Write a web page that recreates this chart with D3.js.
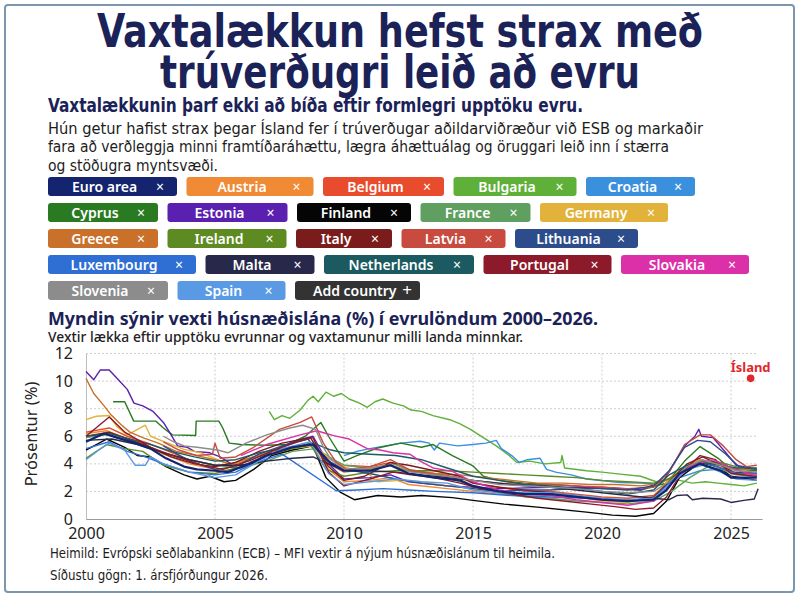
<!DOCTYPE html>
<html>
<head>
<meta charset="utf-8">
<script src="https://cdn.jsdelivr.net/npm/d3@7"></script>
<style>
  body { margin: 0; background: #fff; }
  svg { display: block; }
  .narrow { font-family: "Liberation Sans Narrow", "DejaVu Sans Condensed", "Roboto Condensed", sans-serif; }
  .sans { font-family: "Noto Sans", "Open Sans", sans-serif; }
</style>
</head>
<body>
<svg id="chart" width="800" height="599"></svg>
<script>
// DATA: mortgage rates (%), [year, value]
const countries = ["Euro area", "Austria", "Belgium", "Bulgaria", "Croatia", "Cyprus", "Estonia",
    "Finland", "France", "Germany", "Greece", "Ireland", "Italy", "Latvia", "Lithuania",
    "Luxembourg", "Malta", "Netherlands", "Portugal", "Slovakia", "Slovenia", "Spain"];

const euroArea = [[2000,5.6],[2000.7,6.2],[2001.2,5.9],[2001.9,5.5],[2002.5,5.1],[2003.1,4.4],[2003.8,3.8],[2004.3,3.6],[2005,3.5],[2005.5,3.4],[2006.2,3.9],[2007,4.6],[2008,5.2],[2008.8,5.4],[2009.5,4.0],[2010,3.5],[2011,3.5],[2011.8,3.9],[2012.5,3.3],[2013.5,3.0],[2014.5,2.8],[2015,2.4],[2016,2.0],[2017,1.8],[2018,1.8],[2019,1.6],[2020,1.4],[2021,1.3],[2022,1.4],[2022.5,2.1],[2023,3.3],[2023.8,4.0],[2024.6,3.5],[2025,3.0],[2026,3.0]];
const austria = [[2000,6.2],[2000.8,6.4],[2001.5,5.9],[2002.3,5.4],[2003,4.7],[2004,4.0],[2005,3.6],[2005.6,3.5],[2006.5,4.2],[2007.5,4.9],[2008.8,5.5],[2009.4,3.6],[2010,2.7],[2011,2.8],[2011.8,3.0],[2012.5,2.5],[2014,2.2],[2015,2.0],[2016,1.8],[2018,1.8],[2019,1.7],[2020,1.4],[2021,1.3],[2022,1.5],[2022.6,2.8],[2023.2,3.8],[2023.8,4.3],[2024.5,3.9],[2025,3.4],[2026,3.2]];
const belgium = [[2000,6.3],[2000.9,6.6],[2001.6,6.0],[2002.4,5.5],[2003.2,4.9],[2004,4.3],[2005,3.9],[2005.8,4.0],[2006.6,4.5],[2007.5,4.8],[2008.7,5.3],[2009.5,4.3],[2010,3.9],[2011,3.8],[2011.8,4.1],[2012.5,3.6],[2013.5,3.3],[2014.5,3.0],[2015,2.6],[2016,2.3],[2017,2.0],[2018,2.0],[2019,1.8],[2020,1.6],[2021,1.5],[2022,1.7],[2022.6,2.8],[2023.3,3.7],[2023.9,4.1],[2024.6,3.7],[2025,3.4],[2025.5,3.3],[2026,3.5]];
const bulgaria = [[2007.1,7.8],[2007.3,7.2],[2007.6,7.5],[2007.9,7.3],[2008.3,7.9],[2008.6,8.6],[2008.8,8.9],[2009.0,8.5],[2009.3,9.2],[2009.6,8.9],[2009.9,9.1],[2010.2,8.7],[2010.6,8.4],[2010.9,8.1],[2011.2,8.5],[2011.5,8.7],[2011.9,8.4],[2012.3,8.2],[2012.6,7.9],[2013.0,7.8],[2013.45,7.5],[2014.1,7.2],[2014.5,6.9],[2014.9,6.5],[2015.4,5.9],[2015.9,5.3],[2016.4,4.6],[2016.7,4.1],[2017.2,4.2],[2017.8,4.0],[2018.4,4.1],[2018.45,4.6],[2018.55,3.7],[2019.4,3.5],[2020,3.4],[2020.7,3.25],[2021.5,3.1],[2022.1,2.7],[2022.6,2.9],[2023.0,2.8],[2023.5,2.6],[2024.0,2.7],[2024.5,2.6],[2025,2.5],[2025.5,2.4],[2026,2.6]];
const croatia = [[2010,4.6],[2010.5,4.9],[2011,5.1],[2011.6,5.3],[2012.2,5.5],[2012.95,5.64],[2013.3,5.5],[2013.5,5.0],[2013.7,5.5],[2014.4,5.3],[2015,5.4],[2015.5,5.5],[2015.9,5.7],[2016.1,5.1],[2016.5,4.6],[2016.8,4.1],[2017.1,4.3],[2017.6,4.4],[2017.85,3.6],[2018.2,3.4],[2018.8,3.2],[2019.4,2.9],[2020.7,2.65],[2021.5,2.6],[2022.5,2.5],[2023,3.0],[2023.8,3.5],[2024.5,3.6],[2025,3.4],[2026,3.3]];
const cyprus = [[2001.05,8.5],[2001.5,8.5],[2001.85,7.1],[2002.7,7.1],[2003.0,6.6],[2003.35,6.1],[2004.25,6.05],[2004.27,7.1],[2005.15,7.1],[2005.3,6.6],[2005.55,5.5],[2006,5.4],[2007,5.35],[2007.8,5.4],[2008.5,6.0],[2009.1,7.0],[2009.4,6.0],[2010,4.2],[2010.5,4.6],[2011.3,5.15],[2012.2,5.5],[2013,5.2],[2013.45,5.4],[2014.2,4.6],[2015,3.85],[2015.4,3.1],[2016,2.8],[2017,2.6],[2018,2.5],[2019,2.4],[2020,2.2],[2021.5,2.1],[2022.5,2.6],[2023.2,4.2],[2023.8,5.25],[2024.5,4.4],[2025,3.6],[2026,3.5]];
const estonia = [[2000,10.7],[2000.3,10.1],[2000.55,10.8],[2000.9,10.8],[2001.2,10.2],[2001.6,9.4],[2001.86,8.4],[2002.2,8.2],[2002.6,7.8],[2003.0,7.0],[2003.3,6.1],[2003.55,5.3],[2003.93,5.2],[2004.2,4.9],[2004.8,4.8],[2005.2,4.5],[2005.7,3.9],[2006.5,4.0],[2007.3,5.0],[2008,5.6],[2008.8,6.0],[2009.4,4.0],[2010,2.9],[2011,3.0],[2011.8,3.2],[2012.5,2.7],[2014,2.4],[2016,2.2],[2018,2.3],[2020,2.3],[2021.5,2.1],[2022.4,2.8],[2023.2,5.3],[2023.6,6.0],[2023.75,6.5],[2023.85,6.0],[2024.3,5.9],[2024.8,4.8],[2025.2,3.9],[2026,3.6]];
const finland = [[2000,5.0],[2000.8,5.8],[2001.5,5.2],[2002,4.6],[2002.5,4.5],[2003.1,3.8],[2003.8,3.2],[2004.3,2.9],[2004.8,3.1],[2005.35,2.7],[2005.8,2.8],[2006.5,3.6],[2007.2,4.6],[2008,5.0],[2008.8,5.3],[2009.3,3.0],[2009.85,1.95],[2010.4,1.4],[2011.3,1.7],[2012.2,1.6],[2013,1.7],[2014.2,1.55],[2015,1.35],[2016.2,1.08],[2017.5,0.86],[2019.4,0.5],[2020.4,0.28],[2021.3,0.2],[2022,0.4],[2022.5,1.3],[2023,3.0],[2023.8,4.1],[2024.5,3.8],[2025,3.1],[2026,2.8]];
const france = [[2000,5.9],[2000.8,6.1],[2001.6,5.7],[2002.5,5.2],[2003.3,4.6],[2004,4.3],[2005,3.9],[2006,3.7],[2007,4.2],[2008,4.9],[2008.9,5.1],[2009.6,4.3],[2010,3.9],[2011,3.7],[2011.9,4.0],[2012.8,3.4],[2014,3.0],[2015,2.4],[2016,1.9],[2017,1.6],[2018,1.5],[2019,1.3],[2020,1.2],[2021,1.1],[2022,1.3],[2022.7,2.0],[2023.4,3.0],[2024.1,3.8],[2024.6,3.6],[2025.2,3.2],[2026,3.1]];
const germany = [[2000,7.2],[2000.4,7.45],[2000.9,7.5],[2001.2,6.7],[2001.6,6.1],[2002,6.5],[2002.3,6.8],[2002.5,6.0],[2003.1,5.55],[2003.8,5.05],[2004.45,4.8],[2005.1,4.3],[2005.6,3.9],[2006.3,4.4],[2007.2,4.9],[2008,5.1],[2008.8,5.3],[2009.5,4.3],[2010,3.8],[2011,3.2],[2011.3,2.7],[2012.2,2.8],[2013,2.7],[2014,2.4],[2015,2.2],[2016,1.9],[2017,1.8],[2018,1.8],[2019,1.6],[2020,1.3],[2021,1.2],[2022,1.6],[2022.6,2.9],[2023.3,3.9],[2023.9,4.2],[2024.6,3.8],[2025,3.6],[2026,3.4]];
const greece = [[2000,10.2],[2000.3,9.1],[2000.7,8.2],[2000.95,7.6],[2001.35,6.85],[2001.7,6.3],[2002.2,5.9],[2002.8,5.5],[2003.5,4.9],[2004.3,4.6],[2005,4.3],[2005.6,4.0],[2006.3,4.4],[2007.2,4.9],[2008,5.2],[2008.7,5.5],[2009.4,4.0],[2010,3.4],[2011,3.6],[2011.8,3.9],[2012.5,3.5],[2013.5,3.3],[2014.5,3.2],[2015.5,3.0],[2016.5,2.8],[2017.5,2.6],[2018.5,2.6],[2019.5,2.5],[2020.5,2.5],[2021.5,2.4],[2022.3,2.6],[2022.9,3.3],[2023.6,4.0],[2024.2,4.2],[2024.8,3.8],[2025.4,3.6],[2026,3.6]];
const ireland = [[2000,4.4],[2000.8,5.4],[2001.5,5.1],[2002.2,4.9],[2003,3.9],[2004,3.4],[2005,3.3],[2006,3.8],[2007,4.6],[2008,5.1],[2008.7,5.4],[2009.3,3.6],[2010,3.1],[2011,3.4],[2012,3.5],[2013,3.5],[2014,3.5],[2015,3.4],[2016,3.3],[2017,3.2],[2018,3.1],[2019,3.0],[2020,2.8],[2021,2.7],[2022,2.6],[2022.6,2.9],[2023.3,3.8],[2023.9,4.2],[2024.6,4.1],[2025.2,3.8],[2026,3.6]];
const italy = [[2000,6.0],[2000.9,6.3],[2001.6,5.8],[2002.5,5.2],[2003.3,4.5],[2004.2,4.0],[2005,3.8],[2005.8,4.1],[2006.7,4.9],[2007.6,5.5],[2008.7,5.9],[2009.4,3.8],[2010,2.8],[2010.8,3.1],[2011.8,4.1],[2012.5,3.9],[2013.5,3.5],[2014.5,3.1],[2015,2.6],[2016,2.3],[2017,2.1],[2018,1.9],[2019,1.7],[2020,1.4],[2021,1.3],[2022,1.6],[2022.6,2.7],[2023.3,4.0],[2023.9,4.5],[2024.6,3.9],[2025.1,3.4],[2026,3.3]];
const latvia = [[2003,5.6],[2003.6,5.0],[2004.3,4.6],[2004.9,4.7],[2005.0,5.5],[2005.2,4.4],[2005.8,4.5],[2006.5,5.2],[2007.5,6.5],[2008.3,7.0],[2008.75,7.4],[2009.2,5.5],[2009.7,4.1],[2010.1,3.6],[2011,3.8],[2011.8,4.3],[2012.6,3.5],[2014,3.1],[2015,2.8],[2016,2.6],[2017,2.5],[2018,2.5],[2019,2.4],[2020,2.3],[2021,2.2],[2022,2.3],[2022.6,3.4],[2023.2,5.4],[2023.8,6.1],[2024.2,6.1],[2024.7,5.3],[2025.2,4.3],[2025.6,3.8],[2026,3.9]];
const lithuania = [[2003,5.3],[2004,4.2],[2005,3.6],[2005.8,3.8],[2006.7,4.7],[2007.6,5.3],[2008.6,5.8],[2009.3,4.3],[2010,3.6],[2011,3.3],[2012,2.9],[2013,2.6],[2014,2.4],[2015,2.2],[2016,2.0],[2017,2.1],[2018,2.1],[2019,2.2],[2020,2.2],[2021,2.1],[2022,2.4],[2022.6,3.5],[2023.2,5.2],[2023.7,5.7],[2024.2,5.6],[2024.8,4.7],[2025.3,3.8],[2026,3.6]];
const luxembourg = [[2000,5.1],[2000.9,5.6],[2001.6,4.9],[2002.3,4.5],[2003,4.0],[2004,3.4],[2005,3.2],[2005.8,3.4],[2006.6,4.1],[2007.6,4.7],[2009.7,2.05],[2010.5,2.1],[2011.5,2.2],[2012.5,2.1],[2013.5,2.0],[2015,1.9],[2016.5,1.7],[2018,1.6],[2019.5,1.5],[2021,1.3],[2022,1.5],[2022.6,2.6],[2023.3,3.8],[2023.9,4.1],[2024.6,3.7],[2025.2,3.3],[2026,3.3]];
const malta = [[2000,5.7],[2001,5.8],[2002,5.4],[2003,4.8],[2004,4.3],[2005,3.9],[2006,3.9],[2007,4.2],[2008,4.4],[2008.8,4.5],[2009.5,3.9],[2010,3.6],[2011,3.5],[2012,3.4],[2013,3.2],[2014,3.0],[2015,2.8],[2016,2.6],[2017,2.4],[2018,2.3],[2019,2.1],[2020,1.9],[2021,1.7],[2022,1.5],[2022.6,1.4],[2022.9,1.7],[2023.3,1.75],[2023.5,1.4],[2023.9,1.5],[2024.6,1.45],[2025,1.2],[2025.5,1.35],[2025.9,1.45],[2026.05,2.2]];
const netherlands = [[2000,6.0],[2000.9,6.2],[2001.7,5.8],[2002.5,5.4],[2003.3,4.9],[2004.2,4.5],[2005,4.2],[2005.8,4.3],[2006.7,4.8],[2007.6,5.1],[2008.8,5.5],[2009.5,5.0],[2010,4.8],[2011,4.7],[2012,4.6],[2013,4.3],[2014,3.7],[2015,3.1],[2016,2.8],[2017,2.5],[2018,2.4],[2019,2.2],[2020,2.0],[2021,1.8],[2022,2.1],[2022.6,3.2],[2023.3,3.9],[2023.9,4.1],[2024.6,3.9],[2025.2,3.7],[2026,3.7]];
const portugal = [[2000,6.0],[2000.9,7.4],[2001.5,6.3],[2002.5,5.2],[2003.5,4.5],[2004.5,3.9],[2005.3,3.6],[2006.3,4.2],[2007.3,5.0],[2008.2,5.6],[2008.8,5.9],[2009.4,3.4],[2010,2.4],[2011,2.9],[2011.9,3.4],[2012.6,3.2],[2013.5,3.0],[2014.5,2.6],[2015.5,2.1],[2016.5,1.8],[2017.5,1.5],[2018.5,1.3],[2019.5,1.1],[2020.5,0.9],[2021.3,0.7],[2022,0.8],[2022.5,1.6],[2023.1,3.4],[2023.8,4.6],[2024.4,4.3],[2025,3.3],[2026,3.1]];
const slovakia = [[2006,4.6],[2007,5.4],[2008.3,6.1],[2008.95,6.4],[2009.3,6.2],[2009.6,6.05],[2010.2,5.8],[2010.9,5.1],[2011.4,5.0],[2011.9,4.8],[2012.55,4.7],[2012.95,4.2],[2013.45,3.7],[2014.2,3.45],[2015,2.7],[2016,2.1],[2017,1.8],[2018,1.7],[2019,1.4],[2020,1.2],[2021,1.0],[2022,1.3],[2022.7,2.6],[2023.5,3.9],[2024.3,4.3],[2025,3.7],[2026,3.1]];
const slovenia = [[2003,6.0],[2003.4,5.6],[2003.8,5.3],[2004.3,5.2],[2005.1,5.0],[2005.5,4.8],[2006.2,5.5],[2007,6.1],[2007.9,6.6],[2008.4,6.8],[2008.9,6.5],[2009.2,5.2],[2009.5,4.3],[2010,3.6],[2011,3.7],[2011.8,3.9],[2012.6,3.4],[2014,3.1],[2015,2.8],[2016,2.5],[2017,2.4],[2018,2.3],[2019,2.2],[2020,2.0],[2021,1.9],[2022,2.0],[2022.6,2.7],[2023.3,3.8],[2023.9,4.3],[2024.6,3.9],[2025.2,3.5],[2026,3.4]];
const spain = [[2000,4.3],[2000.5,5.0],[2000.9,5.5],[2001.5,5.0],[2001.9,3.9],[2002.3,3.9],[2002.5,4.5],[2003,4.0],[2004,3.4],[2005,3.0],[2005.8,3.2],[2006.7,4.2],[2007.6,5.1],[2008.7,5.6],[2009.4,3.3],[2010,2.5],[2011,2.7],[2012,2.9],[2013,2.7],[2014,2.6],[2015,2.1],[2016,1.9],[2017,1.9],[2018,1.9],[2019,1.7],[2020,1.5],[2021,1.4],[2022,1.5],[2022.6,2.4],[2023.3,3.6],[2023.9,3.9],[2024.6,3.4],[2025.2,2.9],[2026,2.8]];

const series = [euroArea, austria, belgium, bulgaria, croatia, cyprus, estonia, finland, france,
    germany, greece, ireland, italy, latvia, lithuania, luxembourg, malta, netherlands, portugal,
    slovakia, slovenia, spain];

// Iceland marker
const iceland = [[2025.76, 10.2]];

const yTicks = [0, 2, 4, 6, 8, 10, 12];
const xTicks = [2000, 2005, 2010, 2015, 2020, 2025];

// STYLE: colours per country (same order as countries)
const colors = ["#14246e", "#f08a34", "#e84c2c", "#5fb038", "#3b90dd", "#2a7a22", "#5a20b0",
    "#050505", "#5fa060", "#e2b23a", "#c9702a", "#5e8a22", "#7a1c1c", "#c94a3e", "#2c4c8c",
    "#2f6fd4", "#28284a", "#1a5a60", "#8c1a2a", "#dc30a8", "#8c8c8c", "#5a9ae4"];

const svg = d3.select("#chart");

// FRAME
svg.append("rect")
    .attr("x", 5).attr("y", 5).attr("width", 789).attr("height", 587)
    .attr("rx", 3)
    .attr("fill", "#fff")
    .attr("stroke", "#7c96ae")
    .attr("stroke-width", 2);

// HEADINGS
const navy = "#1b2257";
svg.append("text").attr("class", "narrow")
    .attr("x", 400).attr("y", 47).attr("text-anchor", "middle")
    .attr("font-size", 46).attr("font-weight", 700).attr("fill", navy)
    .attr("textLength", 606).attr("lengthAdjust", "spacingAndGlyphs")
    .text("Vaxtalækkun hefst strax með");
svg.append("text").attr("class", "narrow")
    .attr("x", 400).attr("y", 88).attr("text-anchor", "middle")
    .attr("font-size", 46).attr("font-weight", 700).attr("fill", navy)
    .attr("textLength", 480).attr("lengthAdjust", "spacingAndGlyphs")
    .text("trúverðugri leið að evru");

svg.append("text").attr("class", "narrow")
    .attr("x", 48).attr("y", 112)
    .attr("font-size", 19).attr("font-weight", 700).attr("fill", navy)
    .attr("textLength", 535).attr("lengthAdjust", "spacingAndGlyphs")
    .text("Vaxtalækkunin þarf ekki að bíða eftir formlegri upptöku evru.");

const para = [
    ["Hún getur hafist strax þegar Ísland fer í trúverðugar aðildarviðræður við ESB og markaðir", 655],
    ["fara að verðleggja minni framtíðaráhættu, lægra áhættuálag og öruggari leið inn í stærra", 621],
    ["og stöðugra myntsvæði.", 170]
];
para.forEach((p, i) => {
    svg.append("text").attr("class", "narrow")
        .attr("x", 48).attr("y", 133.5 + i * 18.5)
        .attr("font-size", 16).attr("fill", "#1c1c1c")
        .attr("textLength", p[1]).attr("lengthAdjust", "spacingAndGlyphs")
        .text(p[0]);
});

// LEGEND CHIPS (layout only)
const chipRows = [[0, 1, 2, 3, 4], [5, 6, 7, 8, 9], [10, 11, 12, 13, 14], [15, 16, 17, 18, 19], [20, 21, -1]];
const chipW = {0: 129, 1: 127, 2: 121, 3: 123, 4: 109, 5: 110, 6: 120, 7: 114, 8: 110, 9: 128,
    10: 110, 11: 119, 12: 96, 13: 104, 14: 123, 15: 148, 16: 109, 17: 150, 18: 128, 19: 128,
    20: 120, 21: 108, "-1": 125};

chipRows.forEach((row, r) => {
    let cx = 48;
    const cy = 177 + r * 26;
    row.forEach(i => {
        const w = chipW[i];
        const g = svg.append("g").attr("transform", `translate(${cx},${cy})`);
        g.append("rect")
            .attr("width", w).attr("height", 19).attr("rx", 3)
            .attr("fill", i < 0 ? "#333333" : colors[i]);
        if (i < 0) {
            g.append("text").attr("class", "sans")
                .attr("x", 18).attr("y", 14.5)
                .attr("font-size", 14).attr("font-weight", 600).attr("fill", "#fff")
                .text("Add country");
            g.append("text").attr("class", "sans")
                .attr("x", w - 13).attr("y", 15).attr("text-anchor", "middle")
                .attr("font-size", 17).attr("fill", "#fff")
                .text("+");
        } else {
            g.append("text").attr("class", "sans")
                .attr("x", (w - 20) / 2 + 2).attr("y", 14.5).attr("text-anchor", "middle")
                .attr("font-size", 14).attr("font-weight", 600).attr("fill", "#fff")
                .text(countries[i]);
            g.append("text").attr("class", "sans")
                .attr("x", w - 17).attr("y", 14.5).attr("text-anchor", "middle")
                .attr("font-size", 14).attr("fill", "#fff")
                .text("×");
        }
        cx += w + 9.5;
    });
});

// CHART TITLES
svg.append("text").attr("class", "sans")
    .attr("x", 48).attr("y", 325)
    .attr("font-size", 17).attr("font-weight", 700).attr("fill", navy)
    .attr("textLength", 550).attr("lengthAdjust", "spacingAndGlyphs")
    .text("Myndin sýnir vexti húsnæðislána (%) í evrulöndum 2000–2026.");
svg.append("text").attr("class", "sans")
    .attr("x", 48).attr("y", 342)
    .attr("font-size", 14).attr("font-weight", 500).attr("fill", "#222")
    .attr("textLength", 475).attr("lengthAdjust", "spacingAndGlyphs")
    .text("Vextir lækka eftir upptöku evrunnar og vaxtamunur milli landa minnkar.");

// SCALES
const x = d3.scaleLinear().domain([2000, 2026.2]).range([86, 762]);
const y = d3.scaleLinear().domain([0, 12]).range([519, 353.5]);

const plot = svg.append("g");

// GRID
plot.selectAll(".hgrid")
    .data(yTicks.filter(d => d > 0))
    .enter().append("line")
    .attr("x1", x(2000)).attr("x2", 757)
    .attr("y1", d => y(d)).attr("y2", d => y(d))
    .attr("stroke", "#cfcfcf").attr("stroke-dasharray", "2,2");
plot.selectAll(".vgrid")
    .data(xTicks.filter(d => d > 2000))
    .enter().append("line")
    .attr("x1", d => x(d)).attr("x2", d => x(d))
    .attr("y1", y(12)).attr("y2", y(0))
    .attr("stroke", "#cfcfcf").attr("stroke-dasharray", "2,2");

// AXES
const yAxis = plot.append("g")
    .attr("transform", `translate(${x(2000)},0)`)
    .call(d3.axisLeft(y).tickValues(yTicks).tickSize(0).tickPadding(13));
yAxis.select(".domain").attr("stroke", "#bdbdbd");
yAxis.selectAll("text")
    .attr("class", "sans").attr("font-size", 16).attr("fill", "#222");

const xAxis = plot.append("g")
    .attr("transform", `translate(0,${y(0)})`)
    .call(d3.axisBottom(x).tickValues(xTicks).tickFormat(d3.format("d")).tickSize(0).tickPadding(9));
xAxis.select(".domain").attr("stroke", "#9a9a9a").attr("stroke-width", 1.2);
xAxis.selectAll("text")
    .attr("class", "sans").attr("font-size", 16).attr("fill", "#222");

svg.append("text").attr("class", "sans")
    .attr("transform", "translate(37,434) rotate(-90)")
    .attr("text-anchor", "middle")
    .attr("font-size", 16.5).attr("fill", "#222")
    .text("Prósentur (%)");

// LINES
const line = d3.line()
    .x(d => x(d[0]))
    .y(d => y(d[1]));

const order = d3.range(1, series.length).concat([0]);
plot.selectAll(".country")
    .data(order)
    .enter().append("path")
    .attr("d", i => line(series[i]))
    .attr("fill", "none")
    .attr("stroke", i => colors[i])
    .attr("stroke-width", i => i === 0 ? 2.2 : 1.4)
    .attr("stroke-linejoin", "round");

// ICELAND
plot.selectAll(".ice")
    .data(iceland)
    .enter().append("circle")
    .attr("cx", d => x(d[0])).attr("cy", d => y(d[1]))
    .attr("r", 3.8).attr("fill", "#e0282c");
svg.append("text").attr("class", "sans")
    .attr("x", x(iceland[0][0])).attr("y", 372).attr("text-anchor", "middle")
    .attr("font-size", 13).attr("font-weight", 700).attr("fill", "#e0282c")
    .text("Ísland");

// FOOTER
svg.append("text").attr("class", "narrow")
    .attr("x", 50).attr("y", 558)
    .attr("font-size", 14).attr("fill", "#1c1c1c")
    .attr("textLength", 505).attr("lengthAdjust", "spacingAndGlyphs")
    .text("Heimild:  Evrópski seðlabankinn (ECB) – MFI vextir á nýjum húsnæðislánum til heimila.");
svg.append("text").attr("class", "narrow")
    .attr("x", 50).attr("y", 580)
    .attr("font-size", 14).attr("fill", "#1c1c1c")
    .attr("textLength", 218).attr("lengthAdjust", "spacingAndGlyphs")
    .text("Síðustu gögn: 1. ársfjórðungur 2026.");
</script>
</body>
</html>
